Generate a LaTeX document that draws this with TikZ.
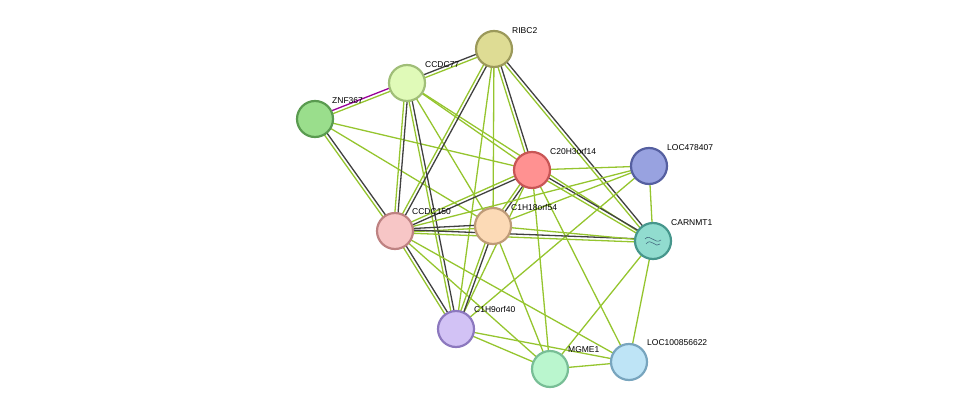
\documentclass[tikz,border=0pt]{standalone}
\usepackage{fontspec}
\setmainfont{Liberation Sans}
\usetikzlibrary{calc}
\begin{document}
\begin{tikzpicture}[x=1pt,y=-1pt,
 grn/.style={draw=yellow!60!green!90!black, line width=1.3pt},
 blk/.style={draw=black!75, line width=1.3pt},
 prp/.style={draw=violet!80!magenta, line width=1.3pt},
 prot/.style={circle, minimum size=36pt, line width=2.2pt, inner sep=0pt},
 lab/.style={font=\fontsize{8.5}{10}\selectfont, anchor=south west, inner sep=1pt}]
\useasboundingbox (0,0) rectangle (976,415);
\newcommand\one[2]{\draw[grn] (#1) -- (#2);}
\newcommand\two[2]{\draw[blk] ($(#1)!1.6pt!90:(#2)$) -- ($(#2)!1.6pt!-90:(#1)$);
 \draw[grn] ($(#1)!1.6pt!-90:(#2)$) -- ($(#2)!1.6pt!90:(#1)$);}
\newcommand\twop[3]{\draw[#3] ($(#1)!1.6pt!90:(#2)$) -- ($(#2)!1.6pt!-90:(#1)$);
 \draw[grn] ($(#1)!1.6pt!-90:(#2)$) -- ($(#2)!1.6pt!90:(#1)$);}
\coordinate (rib) at (494,49);
\coordinate (c77) at (407,83);
\coordinate (znf) at (315,119);
\coordinate (c20) at (532,170);
\coordinate (l47) at (649,166);
\coordinate (c150) at (395,231);
\coordinate (c18) at (493,226);
\coordinate (car) at (653,241);
\coordinate (c9) at (456,329);
\coordinate (mg) at (550,369);
\coordinate (l10) at (629,362);
% edges
\twop{znf}{c77}{prp}
\twop{c77}{rib}{blk}
\two{znf}{c150}
\one{znf}{c20}
\one{znf}{c18}
\two{c77}{c150}
\two{c77}{c9}
\one{c77}{c20}
\one{c77}{c18}
\one{c77}{car}
\two{rib}{c20}
\two{rib}{car}
\two{rib}{c150}
\one{rib}{c18}
\one{rib}{c9}
\one{c20}{l47}
\two{c20}{c150}
\two{c20}{c18}
\two{c20}{car}
\one{c20}{c9}
\one{c20}{mg}
\one{c20}{l10}
\one{l47}{c150}
\one{l47}{c18}
\one{l47}{car}
\one{l47}{c9}
\two{c150}{c18}
\two{c150}{car}
\two{c150}{c9}
\one{c150}{mg}
\one{c150}{l10}
\one{c18}{car}
\two{c18}{c9}
\one{c18}{mg}
\one{car}{mg}
\one{car}{l10}
\one{c9}{mg}
\one{c9}{l10}
\one{mg}{l10}
% nodes
\node[prot, fill={rgb,255:red,222;green,220;blue,148}, draw={rgb,255:red,155;green,153;blue,90}] (nrib) at (rib) {};
\node[prot, fill={rgb,255:red,224;green,250;blue,184}, draw={rgb,255:red,160;green,190;blue,120}] (nc77) at (c77) {};
\node[prot, fill={rgb,255:red,154;green,222;blue,140}, draw={rgb,255:red,90;green,155;blue,80}] (nznf) at (znf) {};
\node[prot, fill={rgb,255:red,255;green,145;blue,145}, draw={rgb,255:red,200;green,85;blue,85}] (nc20) at (c20) {};
\node[prot, fill={rgb,255:red,152;green,162;blue,224}, draw={rgb,255:red,85;green,95;blue,160}] (nl47) at (l47) {};
\node[prot, fill={rgb,255:red,247;green,198;blue,198}, draw={rgb,255:red,190;green,130;blue,130}] (nc150) at (c150) {};
\node[prot, fill={rgb,255:red,252;green,218;blue,182}, draw={rgb,255:red,190;green,155;blue,120}] (nc18) at (c18) {};
\node[prot, fill={rgb,255:red,145;green,220;blue,207}, draw={rgb,255:red,70;green,150;blue,140}] (ncar) at (car) {};
\draw[draw={rgb,255:red,70;green,110;blue,130}, line width=0.6pt] ($(car)+(-8,-2)$) .. controls ($(car)+(-3,-8)$) and ($(car)+(2,4)$) .. ($(car)+(8,-1)$)
 ($(car)+(-7,3)$) .. controls ($(car)+(-2,-4)$) and ($(car)+(3,8)$) .. ($(car)+(7,3)$);
\node[prot, fill={rgb,255:red,210;green,194;blue,245}, draw={rgb,255:red,140;green,120;blue,190}] (nc9) at (c9) {};
\node[prot, fill={rgb,255:red,186;green,246;blue,206}, draw={rgb,255:red,120;green,190;blue,150}] (nmg) at (mg) {};
\node[prot, fill={rgb,255:red,190;green,228;blue,246}, draw={rgb,255:red,120;green,165;blue,190}] (nl10) at (l10) {};
% labels
\node[lab] at (511,35) {RIBC2};
\node[lab] at (424,69) {CCDC77};
\node[lab] at (331,105) {ZNF367};
\node[lab] at (549,156) {C20H3orf14};
\node[lab] at (666,152) {LOC478407};
\node[lab] at (411,216) {CCDC150};
\node[lab] at (510,212) {C1H18orf54};
\node[lab] at (670,227) {CARNMT1};
\node[lab] at (473,314) {C1H9orf40};
\node[lab] at (567,354) {MGME1};
\node[lab] at (646,347) {LOC100856622};
\end{tikzpicture}
\end{document}
